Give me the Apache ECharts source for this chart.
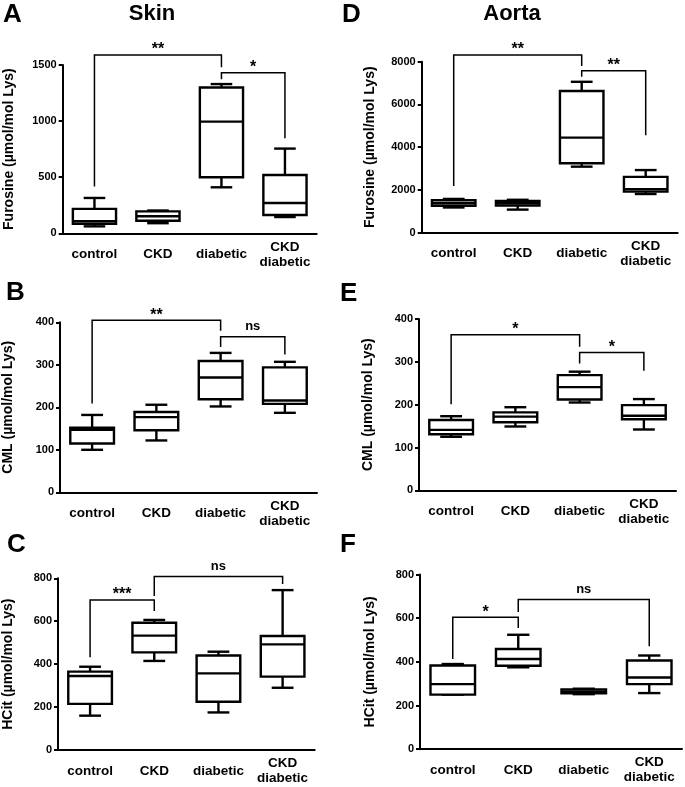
<!DOCTYPE html>
<html>
<head>
<meta charset="utf-8">
<script src="https://cdn.jsdelivr.net/npm/echarts@6/dist/echarts.min.js"></script>
<style>
html, body { margin: 0; padding: 0; background: #fff; }
#chart { width: 685px; height: 787px; }
</style>
</head>
<body>
<div id="chart"></div>
<script>
// groups
var categories = ['control', 'CKD', 'diabetic', 'CKD\ndiabetic'];

// box values per group: [min, Q1, median, Q3, max]
var skinFurosine = [[62, 85, 107, 218, 315], [90, 112, 152, 195, 203], [410, 500, 995, 1300, 1330], [145, 163, 270, 520, 755]];
var skinCML = [[100, 115, 147, 152, 182], [122, 146, 177, 189, 206], [202, 219, 270, 309, 328], [187, 208, 216, 294, 307]];
var skinHCit = [[160, 215, 345, 365, 388], [415, 455, 533, 593, 606], [175, 225, 357, 440, 458], [290, 342, 492, 531, 745]];
var aortaFurosine = [[1180, 1260, 1380, 1520, 1580], [1080, 1270, 1380, 1490, 1540], [3090, 3250, 4450, 6630, 7060], [1810, 1920, 2030, 2610, 2930]];
var aortaCML = [[125, 131, 141, 164, 173], [149, 159, 172, 182, 194], [205, 212, 241, 269, 277], [142, 166, 174, 199, 213]];
var aortaHCit = [[250, 250, 298, 383, 390], [375, 382, 413, 459, 524], [252, 256, 265, 274, 277], [257, 298, 328, 406, 429]];

// significance brackets: [from group, to group, bar level, left foot, right foot]
var skinFurosineBrackets = [[0, 2, 1589, 416, 1480], [2, 3, 1432, 1373, 847]];
var skinCMLBrackets = [[0, 2, 405, 209, 380], [2, 3, 366, 342, 324]];
var skinHCitBrackets = [[0, 1, 699, 432, 648], [1, 3, 808, 718, 774]];
var aortaFurosineBrackets = [[0, 2, 8313, 2185, 7800], [2, 3, 7579, 7298, 4557]];
var aortaCMLBrackets = [[0, 2, 363, 201, 335], [2, 3, 322, 296, 279]];
var aortaHCitBrackets = [[0, 1, 604, 413, 555], [1, 3, 685, 628, 471]];

var skinFurosineMarks = ['**', '*'];
var skinCMLMarks = ['**', 'ns'];
var skinHCitMarks = ['***', 'ns'];
var aortaFurosineMarks = ['**', '**'];
var aortaCMLMarks = ['*', '*'];
var aortaHCitMarks = ['*', 'ns'];

var FONT = '"Liberation Sans", Arial, Helvetica, sans-serif';

var panels = [
    {grid: {left: 62.7, top: 65, width: 254, height: 168.3}, max: 1500, interval: 500, name: 'Furosine (µmol/mol Lys)', gap: 47, boxes: skinFurosine, brackets: skinFurosineBrackets, marks: skinFurosineMarks},
    {grid: {left: 60, top: 322.3, width: 257, height: 170}, max: 400, interval: 100, name: 'CML (µmol/mol Lys)', gap: 45, boxes: skinCML, brackets: skinCMLBrackets, marks: skinCMLMarks},
    {grid: {left: 57.7, top: 578.3, width: 257, height: 171.7}, max: 800, interval: 200, name: 'HCit (µmol/mol Lys)', gap: 43, boxes: skinHCit, brackets: skinHCitBrackets, marks: skinHCitMarks},
    {grid: {left: 421.7, top: 61.7, width: 256, height: 171}, max: 8000, interval: 2000, name: 'Furosine (µmol/mol Lys)', gap: 45, boxes: aortaFurosine, brackets: aortaFurosineBrackets, marks: aortaFurosineMarks},
    {grid: {left: 419, top: 319, width: 257, height: 171.3}, max: 400, interval: 100, name: 'CML (µmol/mol Lys)', gap: 44, boxes: aortaCML, brackets: aortaCMLBrackets, marks: aortaCMLMarks},
    {grid: {left: 420, top: 574.5, width: 262, height: 174.7}, max: 800, interval: 200, name: 'HCit (µmol/mol Lys)', gap: 43, boxes: aortaHCit, brackets: aortaHCitBrackets, marks: aortaHCitMarks}
];

function line(x1, y1, x2, y2, w) {
    return {type: 'line', shape: {x1: x1, y1: y1, x2: x2, y2: y2}, style: {stroke: '#000', lineWidth: w, fill: null}};
}

// box + whiskers, caps are half the box width
function renderBox(params, api) {
    var x = api.value(0);
    var lo = api.coord([x, api.value(1)]);
    var q1 = api.coord([x, api.value(2)]);
    var md = api.coord([x, api.value(3)]);
    var q3 = api.coord([x, api.value(4)]);
    var hi = api.coord([x, api.value(5)]);
    var bw = api.size([1, 0])[0] * 0.68;
    var cx = lo[0];
    var cap = bw / 4;
    var w = 2.4;
    return {
        type: 'group',
        children: [
            line(cx, hi[1], cx, q3[1], w),
            line(cx, q1[1], cx, lo[1], w),
            line(cx - cap, hi[1], cx + cap, hi[1], w),
            line(cx - cap, lo[1], cx + cap, lo[1], w),
            {type: 'rect', shape: {x: cx - bw / 2, y: q3[1], width: bw, height: q1[1] - q3[1]},
                style: {stroke: '#000', lineWidth: w, fill: '#fff'}},
            line(cx - bw / 2, md[1], cx + bw / 2, md[1], w)
        ]
    };
}

function bracketRenderer(marks) {
    return function (params, api) {
        var a = api.coord([api.value(0), api.value(2)]);
        var b = api.coord([api.value(1), api.value(2)]);
        var fa = api.coord([api.value(0), api.value(3)]);
        var fb = api.coord([api.value(1), api.value(4)]);
        var txt = marks[params.dataIndex];
        var isNs = txt === 'ns';
        return {
            type: 'group',
            children: [
                {type: 'polyline', shape: {points: [fa, a, b, fb]}, style: {stroke: '#000', lineWidth: 1.5, fill: null}},
                {type: 'text', x: (a[0] + b[0]) / 2, y: a[1] + (isNs ? -4 : 3),
                    style: {text: txt, fill: '#000', font: (isNs ? 'bold 13px ' : 'bold 16px ') + FONT,
                        align: 'center', verticalAlign: 'bottom'}}
            ]
        };
    };
}

var myChart = echarts.init(document.getElementById('chart'), null, {renderer: 'canvas'});

var option = {
    backgroundColor: '#fff',
    animation: false,
    grid: [],
    xAxis: [],
    yAxis: [],
    series: [],
    graphic: [
        {type: 'text', x: 152, y: 14, style: {text: 'Skin', font: 'bold 22px ' + FONT, fill: '#000', align: 'center', verticalAlign: 'middle'}},
        {type: 'text', x: 512, y: 14, style: {text: 'Aorta', font: 'bold 22px ' + FONT, fill: '#000', align: 'center', verticalAlign: 'middle'}},
        {type: 'text', x: 3, y: 15, style: {text: 'A', font: 'bold 26px ' + FONT, fill: '#000', verticalAlign: 'middle'}},
        {type: 'text', x: 6, y: 293, style: {text: 'B', font: 'bold 26px ' + FONT, fill: '#000', verticalAlign: 'middle'}},
        {type: 'text', x: 7, y: 545, style: {text: 'C', font: 'bold 26px ' + FONT, fill: '#000', verticalAlign: 'middle'}},
        {type: 'text', x: 342, y: 15, style: {text: 'D', font: 'bold 26px ' + FONT, fill: '#000', verticalAlign: 'middle'}},
        {type: 'text', x: 340, y: 294, style: {text: 'E', font: 'bold 26px ' + FONT, fill: '#000', verticalAlign: 'middle'}},
        {type: 'text', x: 340, y: 545, style: {text: 'F', font: 'bold 26px ' + FONT, fill: '#000', verticalAlign: 'middle'}}
    ]
};

panels.forEach(function (p, i) {
    option.grid.push(p.grid);
    option.xAxis.push({
        gridIndex: i,
        type: 'category',
        data: categories,
        axisLine: {lineStyle: {color: '#000', width: 2}},
        axisTick: {alignWithLabel: true, length: 5, lineStyle: {color: '#000', width: 2}},
        axisLabel: {color: '#000', fontFamily: FONT, fontWeight: 'bold', fontSize: 13.5, lineHeight: 15,
            verticalAlign: 'middle', margin: 21, interval: 0},
        splitLine: {show: false}
    });
    option.yAxis.push({
        gridIndex: i,
        type: 'value',
        min: 0,
        max: p.max,
        interval: p.interval,
        name: p.name,
        nameLocation: 'middle',
        nameGap: p.gap,
        nameTextStyle: {color: '#000', fontFamily: FONT, fontWeight: 'bold', fontSize: 14},
        axisLine: {show: true, lineStyle: {color: '#000', width: 2}},
        axisTick: {show: true, length: 4, lineStyle: {color: '#000', width: 2}},
        axisLabel: {color: '#000', fontFamily: FONT, fontWeight: 'bold', fontSize: 11, margin: 6,
            formatter: function (v) { return String(v); }},
        splitLine: {show: false}
    });
    option.series.push({
        type: 'custom',
        xAxisIndex: i,
        yAxisIndex: i,
        renderItem: renderBox,
        encode: {x: 0, y: [1, 2, 3, 4, 5]},
        data: p.boxes.map(function (b, k) { return [k].concat(b); }),
        silent: true
    });
    option.series.push({
        type: 'custom',
        xAxisIndex: i,
        yAxisIndex: i,
        renderItem: bracketRenderer(p.marks),
        encode: {x: [0, 1], y: [2, 3, 4]},
        data: p.brackets,
        clip: false,
        silent: true,
        z: 3
    });
});

myChart.setOption(option);
</script>
</body>
</html>
